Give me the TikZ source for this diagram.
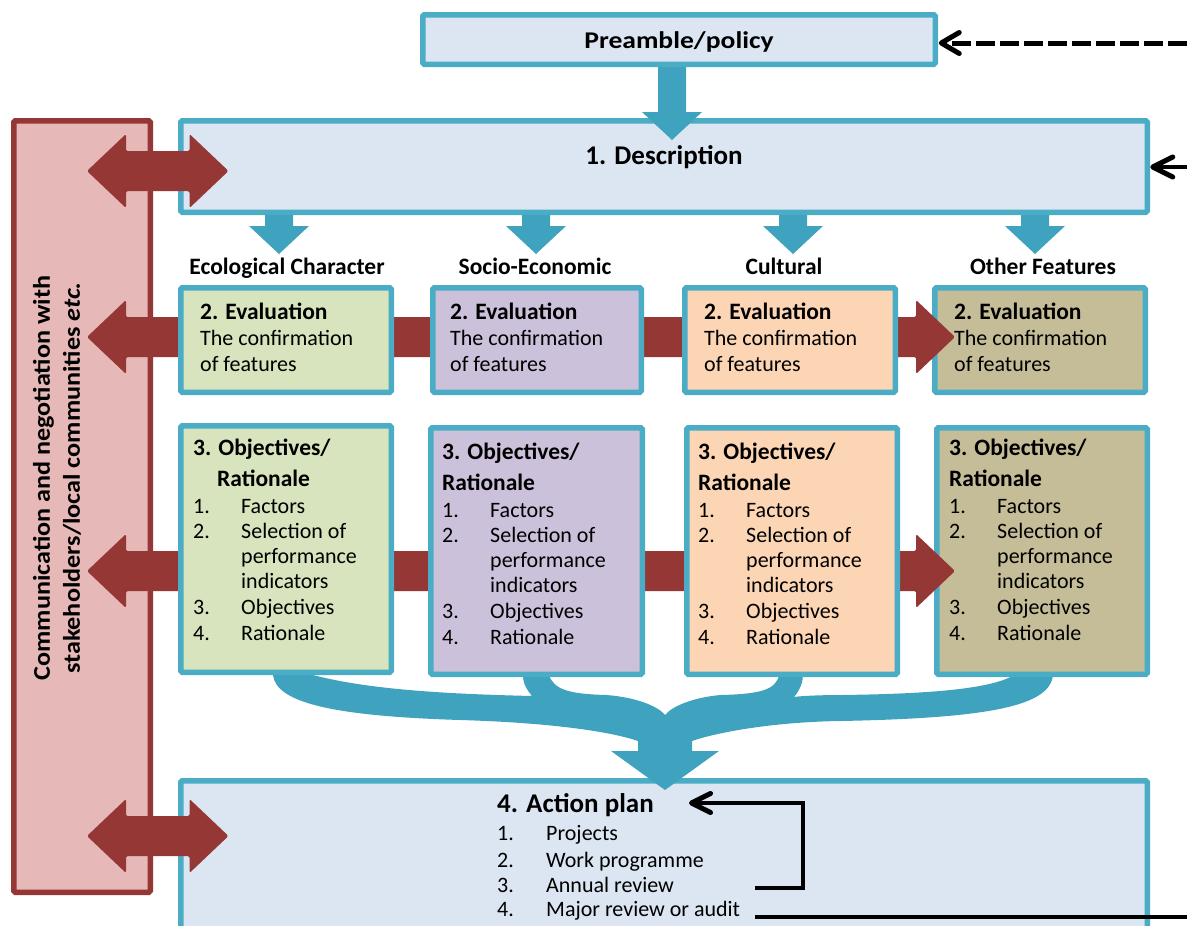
\documentclass[tikz,border=0pt]{standalone}
\usepackage{fontspec}
\setmainfont{Carlito}
\newfontfamily\widefont[FakeStretch=1.15]{Carlito}
\newfontfamily\wideside[FakeStretch=1.09]{Carlito}
\usetikzlibrary{calc}
\definecolor{bxblue}{HTML}{DCE6F2}
\definecolor{bxborder}{HTML}{4BACC6}
\definecolor{tealc}{HTML}{3FA3C0}
\definecolor{redc}{HTML}{953735}
\definecolor{pinkc}{HTML}{E6B9B8}
\definecolor{greenc}{HTML}{D7E4BD}
\definecolor{purplec}{HTML}{CCC1DA}
\definecolor{orangec}{HTML}{FCD5B5}
\definecolor{tanc}{HTML}{C4BD97}
% box from outer corners
\newcommand\mkbox[6]{\node[boxs,#6,minimum width={#4-#2-5.5},minimum height={#5-#3-5.5}] (#1) at ({(#2+#4)/2},{(#3+#5)/2}) {};}
% teal block arrow pointing down: x, ytop, ytip
\newcommand\tealdown[3]{\fill[tealc] (#1-14,#2) -- (#1+14,#2) -- (#1+14,#3-28) -- (#1+30,#3-28) -- (#1,#3) -- (#1-30,#3-28) -- (#1-14,#3-28) -- cycle;}
% red double block arrow: xleft tip, xright tip, ycentre
\newcommand\reddbl[3]{\fill[redc,rounded corners=1.5pt] (#1,#3) -- (#1+39,#3-37) -- (#1+39,#3-20) -- (#2-39,#3-20) -- (#2-39,#3-37) -- (#2,#3) -- (#2-39,#3+37) -- (#2-39,#3+20) -- (#1+39,#3+20) -- (#1+39,#3+37) -- cycle;}
% open chevron pointing left at a named coordinate: coord, back length, half width
\newcommand\chevL[3]{\draw[chev] ($(#1)+(#2,-#3)$) -- (#1) -- ($(#1)+(#2,#3)$);}
% evaluation texts
\newcommand\evtxt[2]{%
 \node[tb,anchor=base west] (#1a) at (#2,319.5) {2. Evaluation};
 \node[tr,anchor=base west] (#1b) at (#2,345) {The confirmation};
 \node[tr,anchor=base west] (#1c) at (#2,371) {of features};}
% objectives texts: name, x, title baseline, indent of Rationale
\newcommand\objtxt[4]{%
 \node[tb,anchor=base west] (#1a) at (#2,#3) {3. Objectives/};
 \node[tb,anchor=base west] (#1b) at (#2+#4,#3+31) {Rationale};
 \foreach \num/\dy [count=\k] in {1./57.5, 2./83, 3./158.5, 4./184.5}
   {\node[tr,anchor=base west] (#1n\k) at (#2,#3+\dy) {\num};}
 \foreach \itm/\dy [count=\k] in {Factors/57.5, Selection of/83, performance/107.5, indicators/133, Objectives/158.5, Rationale/184.5}
   {\node[tr,anchor=base west] (#1i\k) at (#2+48,#3+\dy) {\itm};}}
\begin{document}
\begin{tikzpicture}[x=1pt,y=-1pt,
  boxs/.style={rectangle,line width=5.5pt,rounded corners=1.5pt,inner sep=0pt,outer sep=0pt},
  bluebox/.style={draw=bxborder,fill=bxblue},
  tb/.style={inner sep=0pt,font=\fontsize{23.5}{28}\selectfont\bfseries},
  tr/.style={inner sep=0pt,font=\fontsize{22}{25}\selectfont},
  tB/.style={inner sep=0pt,font=\fontsize{27}{32}\selectfont\bfseries},
  blk/.style={draw=black,line width=4.5pt,miter limit=10},
  chev/.style={draw=black,line width=5pt,line cap=round,line join=round}]
\useasboundingbox (0,0) rectangle (1187,926);
\fill[white] (0,0) rectangle (1187,926);
\clip (0,0) rectangle (1187,926);

% main boxes
\mkbox{pink}{11}{118}{153}{895}{draw=redc,fill=pinkc}
\mkbox{desc}{178}{118}{1150}{215}{bluebox}
\mkbox{act}{178}{778}{1150}{960}{bluebox}
\mkbox{pre}{420}{12}{938}{67}{bluebox}

% teal arrows
\tealdown{672}{67}{140}
\tealdown{279}{215}{254}
\tealdown{536}{215}{254}
\tealdown{793}{215}{254}
\tealdown{1035}{215}{254}

% merging ribbon
\fill[tealc] (273,672) -- (273,675) .. controls (276,702) and (330,716) .. (460,720)
 .. controls (560,723) and (615,733) .. (638,741) -- (638,751) -- (611,751) -- (665,790)
 -- (719,751) -- (692,751) -- (692,741) .. controls (715,733) and (770,722) .. (841,721)
 .. controls (990,718) and (1050,706) .. (1053,675) -- (1053,672) -- (1014,672) -- (1014,675)
 .. controls (990,690) and (920,694) .. (841,695) .. controls (820,695) and (800,696) .. (794,697)
 .. controls (800,690) and (803,682) .. (803,675) -- (803,672) -- (779,672) -- (779,675)
 .. controls (776,690) and (760,694) .. (721,695) .. controls (695,697) and (672,706) .. (665,715)
 .. controls (658,706) and (635,697) .. (606,695) .. controls (570,694) and (554,690) .. (549,675)
 -- (549,672) -- (523,672) -- (523,675) .. controls (523,684) and (527,690) .. (532,696)
 .. controls (450,694) and (370,690) .. (313,675) -- (313,672) -- cycle;

% last column boxes (under the red arrow heads)
\mkbox{e4}{932}{285}{1148}{395}{draw=bxborder,fill=tanc}
\mkbox{o4}{934}{425}{1150}{677}{draw=bxborder,fill=tanc}

% red arrows
\reddbl{87}{228.5}{171}
\reddbl{87}{228.5}{836}
\reddbl{87}{955}{337}
\reddbl{87}{955}{571}

% other column boxes
\mkbox{e1}{178}{285}{394}{395}{draw=bxborder,fill=greenc}
\mkbox{e2}{430}{285}{644}{395}{draw=bxborder,fill=purplec}
\mkbox{e3}{682}{285}{898}{395}{draw=bxborder,fill=orangec}
\mkbox{o1}{178}{423}{394}{675}{draw=bxborder,fill=greenc}
\mkbox{o2}{428}{425}{645}{677}{draw=bxborder,fill=purplec}
\mkbox{o3}{684}{425}{900}{677}{draw=bxborder,fill=orangec}

% black connectors
\coordinate (inPre) at (1187,43);
\coordinate (tipPre) at ($(pre.east |- inPre)+(6,0)$);
\draw[blk,line width=5pt,dash pattern=on 19pt off 5pt] (inPre) -- (tipPre);
\chevL{tipPre}{18}{10.5}
\coordinate (inDesc) at (1187,167);
\coordinate (tipDesc) at ($(desc.east |- inDesc)+(5.5,0)$);
\draw[blk] (inDesc) -- (tipDesc);
\chevL{tipDesc}{20}{10}
\coordinate (loopA) at (755,888);
\coordinate (loopB) at (691.5,803);
\draw[blk,line width=4pt] (loopA) -- ++(48,0) |- (loopB);
\chevL{loopB}{19}{9.5}
\coordinate (outA) at (755,917);
\coordinate (outB) at (1187,917);
\draw[blk,line width=4pt] (outA) -- (outB);

% texts
\node[inner sep=0pt,anchor=base,font=\widefont\fontsize{24}{28}\selectfont\bfseries] (preT) at (679,48) {Preamble/policy};
\node[tB,anchor=base] (descT) at (664,164.7) {1. Description};
\node[tb,anchor=base] (h1) at (287,274.6) {Ecological Character};
\node[tb,anchor=base] (h2) at (535,274.6) {Socio-Economic};
\node[tb,anchor=base] (h3) at (784,274.6) {Cultural};
\node[tb,anchor=base] (h4) at (1043,274.6) {Other Features};
\evtxt{ev1}{200}
\evtxt{ev2}{450}
\evtxt{ev3}{704}
\evtxt{ev4}{954}
\objtxt{ob1}{193}{455.6}{24}
\objtxt{ob2}{442}{459.6}{0}
\objtxt{ob3}{698}{459.6}{0}
\objtxt{ob4}{949}{455.6}{0}
\node[tB,anchor=base west] (actT) at (497,812.5) {4. Action plan};
\foreach \num/\itm/\yb [count=\k] in {1./Projects/840.5, 2./Work programme/867.5, 3./Annual review/892, 4./Major review or audit/916.5}{
  \node[tr,anchor=base west] (an\k) at (497,\yb) {\num};
  \node[tr,anchor=base west] (ai\k) at (546,\yb) {\itm};}
\node[inner sep=0pt,rotate=90,align=center,font=\wideside\fontsize{24}{30}\selectfont\bfseries] (commT) at (57,478)
  {Communication and negotiation with\\stakeholders/local communities \textit{etc.}};
\end{tikzpicture}
\end{document}
